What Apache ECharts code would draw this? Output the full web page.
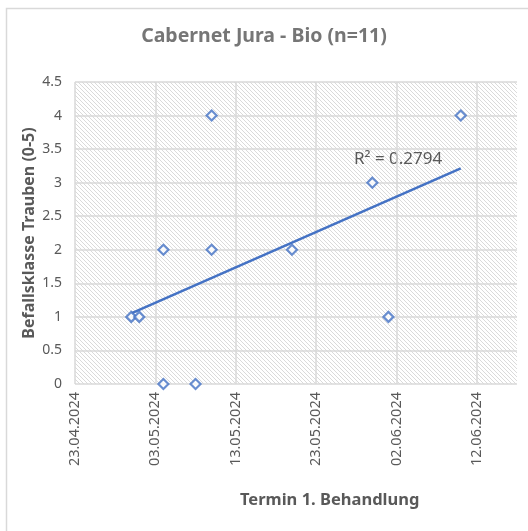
<!DOCTYPE html>
<html>
<head>
<meta charset="utf-8">
<script src="https://cdn.jsdelivr.net/npm/echarts@6/dist/echarts.min.js"></script>
<style>
html,body{margin:0;padding:0;background:#fff;}
#chart{width:528px;height:531px;}
</style>
</head>
<body>
<div id="chart"></div>
<script>
// ---- data ----
var titleText = 'Cabernet Jura - Bio (n=11)';
var xAxisTitle = 'Termin 1. Behandlung';
var yAxisTitle = 'Befallsklasse Trauben (0-5)';
var axisStartDate = '23.04.2024';
var axisEndDate = '17.06.2024';
var tickStepDays = 10;
var dates = ['30.04.2024','01.05.2024','04.05.2024','04.05.2024','08.05.2024','10.05.2024','10.05.2024','20.05.2024','30.05.2024','01.06.2024','10.06.2024'];
var values = [1, 1, 2, 0, 0, 4, 2, 2, 3, 1, 4];
var yMin = 0, yMax = 4.5, yStep = 0.5;

// ---- helpers ----
var DAY = 86400000;
function parseDE(s){ var p = s.split('.'); return Date.UTC(+p[2], +p[1]-1, +p[0]); }
var base = parseDE(axisStartDate);
function dayOf(s){ return Math.round((parseDE(s) - base) / DAY); }
function fmtDay(v){
  var d = new Date(base + v * DAY);
  var dd = String(d.getUTCDate()).padStart(2,'0');
  var mm = String(d.getUTCMonth()+1).padStart(2,'0');
  return dd + '.' + mm + '.' + d.getUTCFullYear();
}
var xs = dates.map(dayOf);
var points = xs.map(function(x,i){ return [x, values[i]]; });

// linear regression (trendline) from the data
var n = xs.length, sx=0, sy=0, sxx=0, sxy=0, syy=0;
for (var i=0;i<n;i++){ sx+=xs[i]; sy+=values[i]; sxx+=xs[i]*xs[i]; sxy+=xs[i]*values[i]; syy+=values[i]*values[i]; }
var Sxx = sxx - sx*sx/n, Sxy = sxy - sx*sy/n, Syy = syy - sy*sy/n;
var slope = Sxy/Sxx, intercept = sy/n - slope*sx/n;
var r2 = (Sxy*Sxy)/(Sxx*Syy);
var xMinD = Math.min.apply(null, xs), xMaxD = Math.max.apply(null, xs);
var trend = [[xMinD, intercept + slope*xMinD], [xMaxD, intercept + slope*xMaxD]];

// hatch pattern
var pc = document.createElement('canvas');
pc.width = 4; pc.height = 4;
var g = pc.getContext('2d');
g.fillStyle = '#ffffff'; g.fillRect(0,0,4,4);
g.strokeStyle = '#dadada'; g.lineWidth = 1;
g.beginPath();
g.moveTo(-1,-1); g.lineTo(5,5);
g.moveTo(-1,3); g.lineTo(1,5);
g.moveTo(3,-1); g.lineTo(5,1);
g.stroke();

var FONT = 'Noto Sans';
var chart = echarts.init(document.getElementById('chart'));
chart.setOption({
  animation: false,
  backgroundColor: '#ffffff',
  title: {
    text: titleText,
    left: 'center',
    top: 21,
    textStyle: { fontFamily: FONT, fontSize: 19.5, fontWeight: 'bold', color: '#767676' }
  },
  grid: {
    left: 75, right: 11, top: 82, bottom: 147,
    show: true,
    borderWidth: 0,
    backgroundColor: { image: pc, repeat: 'repeat' }
  },
  xAxis: {
    type: 'value',
    min: 0,
    max: dayOf(axisEndDate),
    interval: tickStepDays,
    axisLine: { show: false },
    axisTick: { show: false },
    axisLabel: {
      rotate: 90,
      margin: 8,
      showMaxLabel: false,
      fontFamily: FONT, fontSize: 14.5, color: '#595959',
      formatter: function(v){ return fmtDay(v); }
    },
    splitLine: { show: true, showMaxLine: false, lineStyle: { color: '#d9d9d9', width: 1.5 } }
  },
  yAxis: {
    type: 'value',
    min: yMin, max: yMax, interval: yStep,
    name: yAxisTitle,
    nameLocation: 'middle',
    nameGap: 38,
    nameMoveOverlap: false,
    nameTextStyle: { fontFamily: FONT, fontSize: 16, fontWeight: 'bold', color: '#595959' },
    axisLine: { show: false },
    axisTick: { show: false },
    axisLabel: { margin: 13, fontFamily: FONT, fontSize: 14, color: '#595959' },
    splitLine: { show: true, lineStyle: { color: '#d9d9d9', width: 1.5 } }
  },
  graphic: [
    { type: 'rect', left: 4, top: 6, silent: true,
      shape: { x: 0, y: 0, width: 600, height: 600 },
      style: { fill: 'none', stroke: '#d9d9d9', lineWidth: 1.5 } },
    { type: 'text', left: 240, top: 492, silent: true,
      style: { text: xAxisTitle, fontFamily: FONT, fontSize: 16.5, fontWeight: 'bold', fill: '#595959' } },
    { type: 'text', left: 354, top: 151, silent: true,
      style: { text: 'R² = ' + r2.toFixed(4), fontFamily: FONT, fontSize: 17, fill: '#595959' } }
  ],
  series: [
    {
      type: 'line',
      data: trend,
      showSymbol: false,
      symbol: 'none',
      lineStyle: { color: '#4472C4', width: 2.5 },
      silent: true,
      z: 2
    },
    {
      type: 'scatter',
      data: points,
      symbol: 'diamond',
      symbolSize: 10,
      itemStyle: { color: '#ffffff', borderColor: '#4472C4', borderWidth: 2.2 },
      z: 3
    }
  ]
});
</script>
</body>
</html>
